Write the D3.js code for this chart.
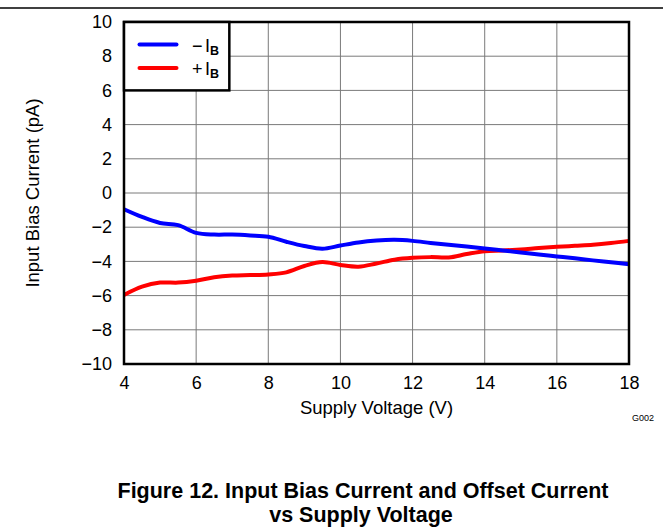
<!DOCTYPE html>
<html>
<head>
<meta charset="utf-8">
<script src="https://cdn.jsdelivr.net/npm/d3@7"></script>
<style>
    body { margin: 0; background: #fff; }
    text { font-family: Arial, "Liberation Sans", sans-serif; fill: #000; }
</style>
</head>
<body>
<div id="chart"></div>
<script>
'use strict';

/*
    INPUT BIAS CURRENT vs SUPPLY VOLTAGE
*/

// supply voltage (V)
const voltage = [4, 4.5, 5, 5.5, 6, 6.5, 7, 7.5, 8, 8.5, 9, 9.5, 10, 10.5, 11, 11.5, 12, 12.5, 13, 13.5, 14, 14.5, 15, 15.5, 16, 16.5, 17, 17.5, 18]
// -IB (pA)
const minusIb = [-0.95, -1.4, -1.75, -1.88, -2.33, -2.43, -2.43, -2.48, -2.56, -2.85, -3.1, -3.26, -3.07, -2.89, -2.78, -2.74, -2.8, -2.92, -3.03, -3.13, -3.24, -3.36, -3.48, -3.6, -3.71, -3.82, -3.94, -4.05, -4.16]
// +IB (pA)
const plusIb = [-5.96, -5.48, -5.24, -5.24, -5.13, -4.93, -4.83, -4.8, -4.76, -4.64, -4.27, -4.04, -4.21, -4.31, -4.12, -3.9, -3.79, -3.75, -3.77, -3.57, -3.4, -3.36, -3.3, -3.22, -3.15, -3.09, -3.03, -2.93, -2.8]

const xTicks = [4, 6, 8, 10, 12, 14, 16, 18]
const yTicks = [-10, -8, -6, -4, -2, 0, 2, 4, 6, 8, 10]

const seriesNames = ['\u2212I', '+I']
const seriesColors = ['#0000ff', '#ff0000']

const drawChart = () => {

    var width = 663,
        height = 529;
    const plot = ({ left: 124, right: 629, top: 22, bottom: 364 })

    var svg = d3.select("#chart").append("svg")
        .attr("width", width)
        .attr("height", height);

    var x = d3.scaleLinear()
        .domain([4, 18])
        .range([plot.left, plot.right]);
    var y = d3.scaleLinear()
        .domain([-10, 10])
        .range([plot.bottom, plot.top]);

    // rule at the top of the page
    svg.append("line")
        .attr("x1", 0).attr("x2", width)
        .attr("y1", 8).attr("y2", 8)
        .attr("stroke", "#000")
        .attr("stroke-width", 1.5);

    // grid
    svg.append("g")
        .selectAll("line")
        .data(xTicks.slice(1, -1))
        .enter().append("line")
        .attr("x1", d => x(d)).attr("x2", d => x(d))
        .attr("y1", plot.top).attr("y2", plot.bottom)
        .attr("stroke", "#7a7a7a")
        .attr("stroke-width", 1);
    svg.append("g")
        .selectAll("line")
        .data(yTicks.slice(1, -1))
        .enter().append("line")
        .attr("x1", plot.left).attr("x2", plot.right)
        .attr("y1", d => y(d)).attr("y2", d => y(d))
        .attr("stroke", "#7a7a7a")
        .attr("stroke-width", 1);

    // axes (labels only, frame drawn below)
    var fmt = d3.format("d")
    svg.append("g")
        .attr("transform", `translate(0,${plot.bottom})`)
        .call(d3.axisBottom(x).tickValues(xTicks).tickSize(0).tickPadding(12).tickFormat(fmt))
        .call(g => g.select(".domain").remove())
        .selectAll("text")
        .attr("font-size", 18)
        .attr("font-family", "Arial, 'Liberation Sans', sans-serif");
    svg.append("g")
        .attr("transform", `translate(${plot.left},0)`)
        .call(d3.axisLeft(y).tickValues(yTicks).tickSize(0).tickPadding(12).tickFormat(fmt))
        .call(g => g.select(".domain").remove())
        .selectAll("text")
        .attr("font-size", 18)
        .attr("font-family", "Arial, 'Liberation Sans', sans-serif");

    // curves
    var line = d3.line()
        .x((d, i) => x(voltage[i]))
        .y(d => y(d))
        .curve(d3.curveCatmullRom);

    svg.append("g")
        .selectAll("path")
        .data([plusIb, minusIb])
        .enter().append("path")
        .attr("d", line)
        .attr("fill", "none")
        .attr("stroke", (d, i) => i === 0 ? seriesColors[1] : seriesColors[0])
        .attr("stroke-width", 4)
        .attr("stroke-linejoin", "round");

    // plot frame
    svg.append("rect")
        .attr("x", plot.left).attr("y", plot.top)
        .attr("width", plot.right - plot.left)
        .attr("height", plot.bottom - plot.top)
        .attr("fill", "none")
        .attr("stroke", "#000")
        .attr("stroke-width", 2.5);

    // legend
    var legend = svg.append("g").attr("class", "legend");
    legend.append("rect")
        .attr("x", plot.left).attr("y", plot.top)
        .attr("width", x(6.92) - plot.left)
        .attr("height", y(6) - plot.top)
        .attr("fill", "#fff")
        .attr("stroke", "#000")
        .attr("stroke-width", 2.5);
    var items = legend.selectAll("g.item")
        .data(seriesNames)
        .enter().append("g")
        .attr("class", "item")
        .attr("transform", (d, i) => `translate(0,${44.5 + i * 23.5})`);
    items.append("line")
        .attr("x1", 139.5).attr("x2", 176.5)
        .attr("stroke", (d, i) => seriesColors[i])
        .attr("stroke-width", 4)
        .attr("stroke-linecap", "round");
    var lt = items.append("text")
        .attr("y", 7)
        .attr("font-size", 18);
    lt.append("tspan")
        .attr("x", 192)
        .text(d => d.charAt(0));
    lt.append("tspan")
        .attr("x", 205)
        .text(d => d.charAt(1));
    lt.append("tspan")
        .attr("dy", 3)
        .attr("font-size", 12.5)
        .attr("font-weight", "bold")
        .text("B");

    // axis titles
    svg.append("text")
        .attr("x", (plot.left + plot.right) / 2)
        .attr("y", 414)
        .attr("text-anchor", "middle")
        .attr("font-size", 18.5)
        .text("Supply Voltage (V)");
    svg.append("text")
        .attr("transform", `translate(39,${(plot.top + plot.bottom) / 2}) rotate(-90)`)
        .attr("text-anchor", "middle")
        .attr("font-size", 18.5)
        .text("Input Bias Current (pA)");
    svg.append("text")
        .attr("x", 654)
        .attr("y", 421)
        .attr("text-anchor", "end")
        .attr("font-size", 9)
        .text("G002");

    // figure caption
    svg.append("text")
        .attr("x", 363)
        .attr("y", 498)
        .attr("text-anchor", "middle")
        .attr("font-size", 21.5)
        .attr("font-weight", "bold")
        .text("Figure 12. Input Bias Current and Offset Current");
    svg.append("text")
        .attr("x", 361)
        .attr("y", 522)
        .attr("text-anchor", "middle")
        .attr("font-size", 21.5)
        .attr("font-weight", "bold")
        .text("vs Supply Voltage");
}

drawChart()
</script>
</body>
</html>
